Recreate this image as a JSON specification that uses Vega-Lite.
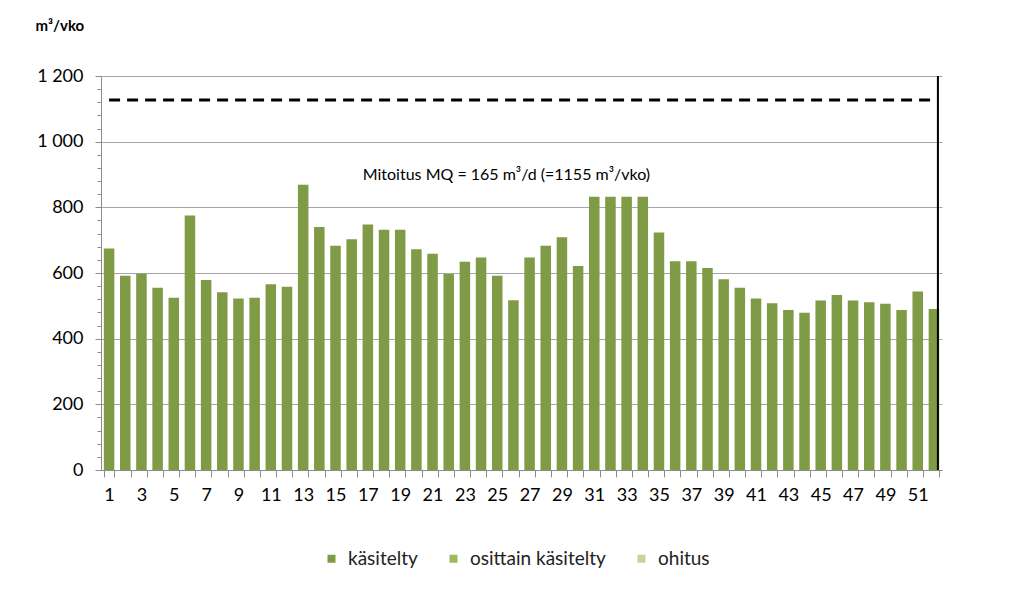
{
  "$schema": "https://vega.github.io/schema/vega-lite/v6.json",
  "width": 841,
  "height": 394,
  "autosize": "none",
  "padding": {"left": 101, "top": 76, "right": 82, "bottom": 130},
  "background": "white",
  "config": {"font": "Lato", "view": {"stroke": null}},
  "resolve": {"axis": {"y": "independent"}},
  "layer": [
    {
      "data": {"values": [
        {"week": 1, "value": 675, "kind": "käsitelty"},
        {"week": 2, "value": 592, "kind": "käsitelty"},
        {"week": 3, "value": 598, "kind": "käsitelty"},
        {"week": 4, "value": 555, "kind": "käsitelty"},
        {"week": 5, "value": 525, "kind": "käsitelty"},
        {"week": 6, "value": 775, "kind": "käsitelty"},
        {"week": 7, "value": 579, "kind": "käsitelty"},
        {"week": 8, "value": 541, "kind": "käsitelty"},
        {"week": 9, "value": 522, "kind": "käsitelty"},
        {"week": 10, "value": 525, "kind": "käsitelty"},
        {"week": 11, "value": 566, "kind": "käsitelty"},
        {"week": 12, "value": 558, "kind": "käsitelty"},
        {"week": 13, "value": 869, "kind": "käsitelty"},
        {"week": 14, "value": 740, "kind": "käsitelty"},
        {"week": 15, "value": 683, "kind": "käsitelty"},
        {"week": 16, "value": 703, "kind": "käsitelty"},
        {"week": 17, "value": 748, "kind": "käsitelty"},
        {"week": 18, "value": 732, "kind": "käsitelty"},
        {"week": 19, "value": 732, "kind": "käsitelty"},
        {"week": 20, "value": 672, "kind": "käsitelty"},
        {"week": 21, "value": 659, "kind": "käsitelty"},
        {"week": 22, "value": 597, "kind": "käsitelty"},
        {"week": 23, "value": 634, "kind": "käsitelty"},
        {"week": 24, "value": 647, "kind": "käsitelty"},
        {"week": 25, "value": 592, "kind": "käsitelty"},
        {"week": 26, "value": 517, "kind": "käsitelty"},
        {"week": 27, "value": 647, "kind": "käsitelty"},
        {"week": 28, "value": 683, "kind": "käsitelty"},
        {"week": 29, "value": 709, "kind": "käsitelty"},
        {"week": 30, "value": 621, "kind": "käsitelty"},
        {"week": 31, "value": 832, "kind": "käsitelty"},
        {"week": 32, "value": 832, "kind": "käsitelty"},
        {"week": 33, "value": 832, "kind": "käsitelty"},
        {"week": 34, "value": 832, "kind": "käsitelty"},
        {"week": 35, "value": 723, "kind": "käsitelty"},
        {"week": 36, "value": 636, "kind": "käsitelty"},
        {"week": 37, "value": 636, "kind": "käsitelty"},
        {"week": 38, "value": 615, "kind": "käsitelty"},
        {"week": 39, "value": 581, "kind": "käsitelty"},
        {"week": 40, "value": 555, "kind": "käsitelty"},
        {"week": 41, "value": 522, "kind": "käsitelty"},
        {"week": 42, "value": 508, "kind": "käsitelty"},
        {"week": 43, "value": 487, "kind": "käsitelty"},
        {"week": 44, "value": 479, "kind": "käsitelty"},
        {"week": 45, "value": 516, "kind": "käsitelty"},
        {"week": 46, "value": 533, "kind": "käsitelty"},
        {"week": 47, "value": 516, "kind": "käsitelty"},
        {"week": 48, "value": 511, "kind": "käsitelty"},
        {"week": 49, "value": 506, "kind": "käsitelty"},
        {"week": 50, "value": 487, "kind": "käsitelty"},
        {"week": 51, "value": 544, "kind": "käsitelty"},
        {"week": 52, "value": 490, "kind": "käsitelty"}
      ]},
      "mark": {"type": "bar"},
      "encoding": {
        "x": {
          "field": "week",
          "type": "ordinal",
          "scale": {"paddingInner": 0.35, "paddingOuter": 0.175},
          "axis": {
            "title": null,
            "tickBand": "extent",
            "labelAngle": 0,
            "labelExpr": "datum.value % 2 == 1 ? datum.label : ''",
            "labelOverlap": false,
            "labelFontSize": 18,
            "labelColor": "black",
            "labelPadding": 9,
            "tickColor": "#8c8c8c",
            "domainColor": "#8c8c8c",
            "tickSize": 7
          }
        },
        "y": {
          "field": "value",
          "type": "quantitative",
          "scale": {"domain": [0, 1200]},
          "axis": {
            "values": [0, 200, 400, 600, 800, 1000, 1200],
            "labelExpr": "replace(format(datum.value, ','), ',', ' ')",
            "labelOverlap": false,
            "tickSize": 6,
            "grid": true,
            "gridColor": "#a6a6a6",
            "domainColor": "#8c8c8c",
            "tickColor": "#8c8c8c",
            "labelFontSize": 18,
            "labelColor": "black",
            "labelPadding": 12,
            "title": "m³/vko",
            "titleAngle": 0,
            "titleAlign": "left",
            "titleBaseline": "middle",
            "titleX": -66,
            "titleY": -51,
            "titleFontSize": 15,
            "titleFontWeight": "bold",
            "titleColor": "black"
          }
        },
        "color": {
          "field": "kind",
          "type": "nominal",
          "scale": {"domain": ["käsitelty", "osittain käsitelty", "ohitus"], "range": ["#7f9b45", "#9bbb59", "#c3d69b"]},
          "legend": {
            "orient": "none",
            "legendX": 221,
            "legendY": 473,
            "direction": "horizontal",
            "title": null,
            "symbolType": "square",
            "symbolSize": 64,
            "symbolStrokeWidth": 0,
            "labelFontSize": 19,
            "labelColor": "#222222",
            "columnPadding": 26,
            "labelOffset": 7,
            "padding": 0
          }
        }
      }
    },
    {
      "data": {"values": [{}]},
      "mark": {"type": "rule", "strokeDash": [11, 7], "strokeWidth": 3, "color": "black"},
      "encoding": {
        "y": {
          "datum": 1127,
          "type": "quantitative",
          "axis": {
            "orient": "left",
            "values": [40, 80, 120, 160, 240, 280, 320, 360, 440, 480, 520, 560, 640, 680, 720, 760, 840, 880, 920, 960, 1040, 1080, 1120, 1160],
            "labels": false,
            "grid": false,
            "domain": false,
            "ticks": true,
            "tickSize": 4,
            "tickColor": "#8c8c8c",
            "title": null
          }
        },
        "x": {"datum": 1, "type": "ordinal"},
        "x2": {"datum": 52}
      }
    },
    {
      "data": {"values": [{}]},
      "mark": {"type": "rule", "strokeWidth": 2, "color": "black", "xOffset": 4},
      "encoding": {
        "x": {"datum": 52, "type": "ordinal"}
      }
    },
    {
      "data": {"values": [{}]},
      "mark": {"type": "text", "fontSize": 16, "dx": -7, "color": "black", "baseline": "middle"},
      "encoding": {
        "x": {"datum": 26, "type": "ordinal"},
        "y": {"datum": 900, "type": "quantitative", "axis": null},
        "text": {"value": "Mitoitus MQ = 165 m³/d (=1155 m³/vko)"}
      }
    }
  ]
}
